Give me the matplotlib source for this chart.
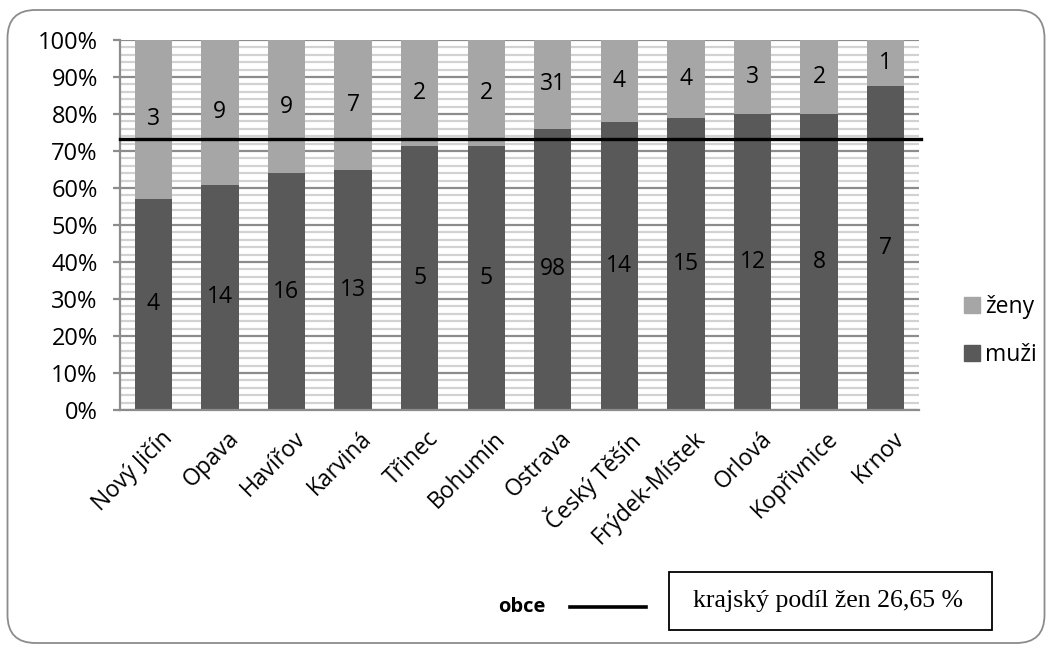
import matplotlib
matplotlib.use("Agg")
import matplotlib.pyplot as plt
import numpy as np
from matplotlib.patches import FancyBboxPatch, Rectangle
from matplotlib.lines import Line2D
from matplotlib.ticker import MultipleLocator, FuncFormatter
from matplotlib.transforms import ScaledTranslation

categories = ["Nový Jičín", "Opava", "Havířov", "Karviná", "Třinec", "Bohumín",
              "Ostrava", "Český Těšín", "Frýdek-Místek", "Orlová", "Kopřivnice", "Krnov"]
muzi = [4, 14, 16, 13, 5, 5, 98, 14, 15, 12, 8, 7]
zeny = [3, 9, 9, 7, 2, 2, 31, 4, 4, 3, 2, 1]
kraj_podil_zen = 26.65

plt.rcParams['font.family'] = ['Open Sans', 'DejaVu Sans']

W, H = 1050, 646
fig = plt.figure(figsize=(W / 100, H / 100), dpi=100)
ax = fig.add_axes([120 / W, (H - 410) / H, (919 - 120) / W, 370 / H])

muzi_a = np.array(muzi, float)
zeny_a = np.array(zeny, float)
tot = muzi_a + zeny_a
pm = muzi_a / tot * 100
pz = zeny_a / tot * 100
x = np.arange(len(categories))

dark = "#595959"
light = "#a6a6a6"

# background grid
ax.set_ylim(0, 100)
ax.set_xlim(-0.5, len(categories) - 0.5)
ax.yaxis.set_major_locator(MultipleLocator(10))
ax.yaxis.set_minor_locator(MultipleLocator(2))
ax.grid(which='minor', axis='y', color='#d2d2d2', linewidth=1.6, zorder=0)
ax.grid(which='major', axis='y', color='#8c8c8c', linewidth=1.6, zorder=0)
ax.set_axisbelow(True)

bw = 0.56
ax.bar(x, pm, width=bw, color=dark, zorder=2, label='muži')
ax.bar(x, pz, width=bw, bottom=pm, color=light, zorder=2, label='ženy')

for i in range(len(categories)):
    ax.text(x[i], pm[i] / 2, str(muzi[i]), ha='center', va='center', fontsize=16.5, color='black', zorder=4)
    ax.text(x[i], pm[i] + pz[i] / 2, str(zeny[i]), ha='center', va='center', fontsize=16.5, color='black', zorder=4)

ax.axhline(100 - kraj_podil_zen, color='black', linewidth=2.4, zorder=3, xmin=0, xmax=1.003, clip_on=False)

for s in ['top', 'right']:
    ax.spines[s].set_visible(False)
for s in ['left', 'bottom']:
    ax.spines[s].set_color('#8c8c8c')
    ax.spines[s].set_linewidth(1.6)

ax.yaxis.set_major_formatter(FuncFormatter(lambda v, p: f"{int(round(v))}%"))
ax.tick_params(axis='y', which='major', length=5, color='#8c8c8c', width=1.6, labelsize=17, pad=11)
ax.tick_params(axis='y', which='minor', length=0)
ax.tick_params(axis='x', length=0, labelsize=16.5, pad=12)
ax.set_xticks(x)
ax.set_xticklabels(categories, rotation=45, ha='right', va='top', rotation_mode='anchor')
shift = ScaledTranslation(7 / 100, 0, fig.dpi_scale_trans)
for lbl in ax.get_xticklabels():
    lbl.set_transform(lbl.get_transform() + shift)

# legend
handles = [Rectangle((0, 0), 1, 1, color=light), Rectangle((0, 0), 1, 1, color=dark)]
fig.legend(handles, ['ženy', 'muži'], loc='center left', bbox_to_anchor=(943 / W, 1 - 331 / H),
           frameon=False, fontsize=16.5, handlelength=0.7, handleheight=0.7,
           handletextpad=0.25, labelspacing=1.05)

# bottom annotation
fig.text(522 / W, 1 - 607 / H, "obce", fontweight='bold', fontsize=14.5, ha='center', va='center')
fig.add_artist(Line2D([570 / W, 646 / W], [1 - 607 / H, 1 - 607 / H], color='black', linewidth=2.6))
fig.text(828 / W, 1 - 601 / H, "krajský podíl žen 26,65 %", family='Liberation Serif', fontsize=18.5,
         ha='center', va='center')
fig.add_artist(Rectangle((669 / W, 1 - 630 / H), (992 - 669) / W, (630 - 572) / H,
                         transform=fig.transFigure, fill=False, edgecolor='black', linewidth=1.3))

# rounded outer border
border = FancyBboxPatch((0.075, 0.03), 10.37, 6.33, boxstyle="round,pad=0,rounding_size=0.28",
                        transform=fig.dpi_scale_trans, fill=False, edgecolor='#8c8c8c', linewidth=1.3)
fig.add_artist(border)

fig.savefig("out.png", dpi=100)
